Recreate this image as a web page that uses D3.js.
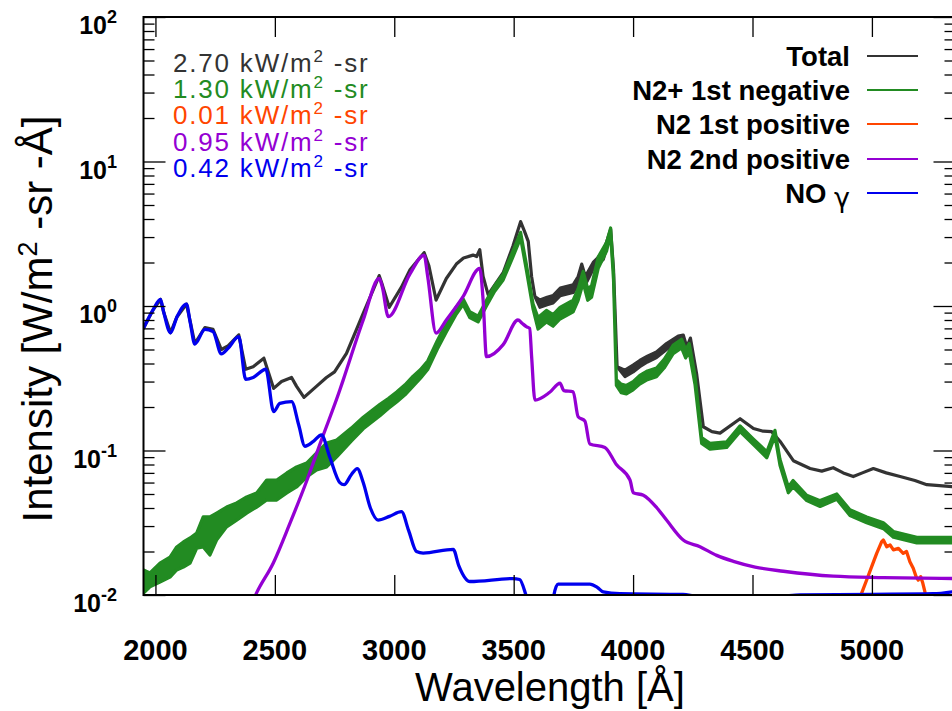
<!DOCTYPE html>
<html>
<head>
<meta charset="utf-8">
<script src="https://cdn.jsdelivr.net/npm/d3@7"></script>
<style>
  body { margin: 0; background: #fff; }
  svg { display: block; font-family: "Liberation Sans", Arial, Helvetica, sans-serif; }
</style>
</head>
<body>
<svg id="chart" width="952" height="711"></svg>
<script>
// ---- axis ticks ----
const xTicks = [2000, 2500, 3000, 3500, 4000, 4500, 5000];
const yDecades = [-2, -1, 0, 1, 2];

// ---- series names, colours and integrated intensities ----
const seriesNames = ["Total", "N2+ 1st negative", "N2 1st positive", "N2 2nd positive", "NO γ"];
const seriesColors = ["#333333", "#228b22", "#ff4500", "#9400d3", "#0000ee"];
const integratedPower = ["2.70", "1.30", "0.01", "0.95", "0.42"];

// ---- spectra: [wavelength Å, intensity] or [wavelength Å, low, high] where the trace is a noisy band ----
const total = [
  [1950, 0.70], [1990, 0.94], [2021, 1.11], [2035, 0.90], [2063, 0.653], [2090, 0.84],
  [2130, 1.03], [2145, 0.79], [2165, 0.55], [2207, 0.71], [2241, 0.69], [2276, 0.50],
  [2304, 0.53], [2349, 0.63], [2378, 0.365], [2409, 0.38], [2454, 0.435], [2495, 0.269],
  [2528, 0.30], [2570, 0.32], [2591, 0.278], [2622, 0.233], [2674, 0.278], [2716, 0.32],
  [2750, 0.35], [2800, 0.47], [2870, 0.89], [2937, 1.62], [2950, 1.40], [2979, 0.98],
  [3030, 1.35], [3066, 1.78], [3125, 2.34], [3145, 1.90], [3175, 1.10], [3218, 1.55],
  [3260, 1.95], [3290, 2.15], [3330, 2.25], [3345, 2.20], [3358, 2.45], [3372, 1.60],
  [3393, 1.20], [3456, 1.70], [3497, 2.60], [3529, 3.83], [3545, 3.30], [3561, 2.80],
  [3575, 1.60], [3589, 1.16], [3610, 0.98, 1.10], [3640, 1.02, 1.15], [3665, 1.05, 1.18],
  [3695, 1.18, 1.33], [3749, 1.24, 1.40], [3770, 1.40, 1.60], [3785, 1.70, 1.95],
  [3800, 1.40, 1.60], [3833, 1.80, 2.00], [3875, 2.10, 2.35], [3906, 3.15, 3.40],
  [3918, 1.80], [3933, 0.38], [3966, 0.325, 0.36], [4000, 0.35, 0.39], [4028, 0.38, 0.42],
  [4060, 0.41, 0.45], [4098, 0.44, 0.48], [4140, 0.50, 0.55], [4189, 0.57, 0.62],
  [4210, 0.58, 0.63], [4225, 0.48, 0.52], [4240, 0.55, 0.60], [4266, 0.34], [4294, 0.146],
  [4330, 0.135], [4364, 0.132], [4448, 0.166], [4504, 0.142], [4545, 0.136], [4580, 0.135],
  [4615, 0.116], [4671, 0.085], [4741, 0.075], [4790, 0.072], [4838, 0.076], [4880, 0.070],
  [4922, 0.066], [4960, 0.070], [5006, 0.075], [5060, 0.070], [5118, 0.066], [5180, 0.062],
  [5230, 0.058], [5350, 0.056]
];

const n2PlusFirstNeg = [
  [1950, 0.0103, 0.0149], [1977, 0.0114, 0.0142], [2019, 0.0123, 0.0166], [2061, 0.0133, 0.0183],
  [2089, 0.0149, 0.0215], [2117, 0.0156, 0.0233], [2145, 0.0166, 0.0248], [2173, 0.0211, 0.0269],
  [2200, 0.0215, 0.0347], [2228, 0.0189, 0.0347], [2256, 0.0240, 0.0369], [2298, 0.0296, 0.0406],
  [2340, 0.0330, 0.0434], [2382, 0.0369, 0.0477], [2424, 0.0406, 0.0508], [2466, 0.0454, 0.0625],
  [2508, 0.0454, 0.0625], [2550, 0.0508, 0.0699], [2591, 0.0559, 0.0769], [2633, 0.0655, 0.0819],
  [2675, 0.0733, 0.0961], [2717, 0.0769, 0.1127], [2759, 0.0902, 0.1182], [2820, 0.1161, 0.1429],
  [2870, 0.1413, 0.1698], [2905, 0.1567, 0.1884], [2940, 0.1738, 0.2089], [2975, 0.195, 0.2291],
  [3010, 0.2163, 0.2541], [3045, 0.2427, 0.2851], [3079, 0.2786, 0.3273], [3110, 0.3162, 0.3631],
  [3140, 0.3631, 0.4169], [3180, 0.5012, 0.5754], [3218, 0.6607, 0.7586], [3260, 0.881, 0.9886],
  [3288, 1.023, 1.122], [3316, 0.832, 0.912], [3351, 0.776, 0.851], [3386, 1.0, 1.096],
  [3420, 1.259, 1.380], [3456, 1.514, 1.660], [3497, 2.188, 2.399], [3529, 2.951, 3.236],
  [3553, 1.778, 1.950], [3581, 0.955, 1.035], [3602, 0.692, 0.832], [3637, 0.776, 0.933],
  [3665, 0.724, 0.871], [3694, 0.813, 0.977], [3749, 0.912, 1.096], [3770, 1.096, 1.318],
  [3791, 1.445, 1.738], [3810, 1.096, 1.318], [3826, 1.148, 1.380], [3854, 1.820, 2.188],
  [3889, 2.399, 2.754], [3906, 3.162, 3.467], [3918, 1.514, 1.660], [3930, 0.282, 0.309],
  [3950, 0.251, 0.288], [3972, 0.246, 0.282], [4000, 0.263, 0.300], [4028, 0.288, 0.331],
  [4060, 0.309, 0.355], [4098, 0.324, 0.372], [4130, 0.372, 0.427], [4168, 0.468, 0.537],
  [4203, 0.513, 0.589], [4220, 0.437, 0.501], [4235, 0.479, 0.550], [4259, 0.288, 0.331],
  [4287, 0.112, 0.123], [4322, 0.102, 0.112], [4392, 0.105, 0.115], [4448, 0.135, 0.148],
  [4504, 0.110, 0.120], [4560, 0.089, 0.098], [4594, 0.126, 0.138], [4615, 0.079, 0.087],
  [4650, 0.051, 0.056], [4670, 0.056, 0.062], [4727, 0.045, 0.049], [4783, 0.041, 0.045],
  [4853, 0.046, 0.050], [4908, 0.0355, 0.0389], [4978, 0.0316, 0.0347], [5048, 0.0288, 0.0316],
  [5090, 0.0251, 0.0275], [5188, 0.0229, 0.0251], [5350, 0.0229, 0.0251]
];

const n2FirstPos = [
  [4950, 0.0085], [4957, 0.0103], [4978, 0.0127], [4999, 0.0157], [5020, 0.0194], [5041, 0.0234],
  [5048, 0.0240], [5062, 0.0216], [5076, 0.0222], [5090, 0.0205], [5111, 0.0210], [5131, 0.0194],
  [5145, 0.0200], [5159, 0.0170], [5173, 0.0153], [5185, 0.0134], [5194, 0.0127], [5204, 0.0134],
  [5213, 0.0121], [5222, 0.0105], [5230, 0.0085]
];

const n2SecondPos = [
  [2380, 0.007], [2423, 0.0103], [2493, 0.0166], [2563, 0.0313], [2632, 0.0608], [2695, 0.118],
  [2772, 0.262], [2786, 0.307], [2870, 0.80], [2937, 1.55], [2950, 1.35], [2975, 0.843],
  [3066, 1.67], [3125, 2.25], [3140, 1.60], [3175, 0.65], [3218, 0.80], [3288, 1.16],
  [3358, 1.82], [3372, 1.10], [3386, 0.446], [3456, 0.54], [3518, 0.80], [3535, 0.76],
  [3553, 0.72], [3567, 0.70], [3575, 0.45], [3589, 0.223], [3651, 0.253], [3694, 0.292],
  [3710, 0.26], [3749, 0.255], [3770, 0.171], [3798, 0.16], [3819, 0.111], [3882, 0.105],
  [3930, 0.08], [3987, 0.0625], [4001, 0.051], [4043, 0.049], [4100, 0.040], [4140, 0.033],
  [4210, 0.024], [4280, 0.0216], [4350, 0.0188], [4420, 0.0171], [4511, 0.0156], [4629, 0.0146],
  [4838, 0.0135], [5048, 0.0132], [5350, 0.013]
];

const noGamma = [
  [1950, 0.70], [1990, 0.94], [2021, 1.11], [2035, 0.90], [2063, 0.653], [2090, 0.84],
  [2130, 1.03], [2145, 0.78], [2165, 0.546], [2207, 0.69], [2241, 0.667], [2276, 0.466],
  [2304, 0.51], [2349, 0.613], [2378, 0.311], [2409, 0.32], [2462, 0.365], [2495, 0.186],
  [2521, 0.212], [2570, 0.218], [2600, 0.15], [2626, 0.107], [2660, 0.115], [2695, 0.128],
  [2730, 0.09], [2772, 0.060], [2790, 0.058], [2820, 0.068], [2845, 0.075], [2870, 0.060],
  [2900, 0.040], [2932, 0.033], [2980, 0.035], [3030, 0.0377], [3060, 0.028], [3093, 0.020],
  [3121, 0.0195], [3247, 0.0207], [3270, 0.016], [3317, 0.0124], [3497, 0.013], [3525, 0.0128],
  [3553, 0.0098], [3570, 0.008], [3660, 0.008], [3668, 0.0099], [3686, 0.0119], [3819, 0.0119],
  [3850, 0.0113], [3875, 0.0105], [3945, 0.0102], [4209, 0.0101], [4272, 0.0098], [4600, 0.0098],
  [4700, 0.0100], [5000, 0.0101], [5255, 0.0102], [5350, 0.0106]
];

const seriesData = [total, n2PlusFirstNeg, n2FirstPos, n2SecondPos, noGamma];
// smooth band-head profiles use monotone curves; noisy traces stay piecewise linear
const smoothSeries = [false, false, false, true, true];

// ---- layout ----
const svg = d3.select("#chart");
const plot = { left: 143.5, right: 955.5, top: 17, bottom: 595 };

const x = d3.scaleLinear().domain([1950, 5350]).range([plot.left, plot.right]);
const y = d3.scaleLog().domain([0.01, 100]).range([plot.bottom, plot.top]);

svg.append("clipPath").attr("id", "plot-clip")
  .append("rect")
  .attr("x", plot.left).attr("y", plot.top)
  .attr("width", plot.right - plot.left).attr("height", plot.bottom - plot.top);

const traces = svg.append("g").attr("clip-path", "url(#plot-clip)");

const band = d3.area()
  .x(d => x(d[0]))
  .y0(d => y(d[1]))
  .y1(d => y(d.length > 2 ? d[2] : d[1]));

seriesData.forEach((data, i) => {
  const noisy = data.some(d => d.length > 2);
  if (noisy) {
    traces.append("path")
      .datum(data)
      .attr("d", band)
      .attr("fill", seriesColors[i])
      .attr("stroke", seriesColors[i])
      .attr("stroke-width", 3.2)
      .attr("stroke-linejoin", "round");
  } else {
    const line = d3.line()
      .x(d => x(d[0]))
      .y(d => y(d[1]))
      .curve(smoothSeries[i] ? d3.curveMonotoneX : d3.curveLinear);
    traces.append("path")
      .datum(data)
      .attr("d", line)
      .attr("fill", "none")
      .attr("stroke", seriesColors[i])
      .attr("stroke-width", 3.3)
      .attr("stroke-linejoin", "round");
  }
});

// ---- frame and ticks (ticks point inward on all four sides) ----
const majorY = yDecades.map(p => Math.pow(10, p));
const minorY = [];
yDecades.slice(0, -1).forEach(p => { for (let m = 2; m <= 9; m++) minorY.push(m * Math.pow(10, p)); });

function styleAxis(g) {
  g.select(".domain").remove();
  g.selectAll(".tick line").attr("stroke", "#000").attr("stroke-width", 1.3);
  g.selectAll(".tick text").remove();
}

svg.append("g").attr("transform", `translate(${plot.left},0)`)
  .call(d3.axisLeft(y).tickValues(majorY).tickSize(-22).tickFormat(""))
  .call(styleAxis);
svg.append("g").attr("transform", `translate(${plot.left},0)`)
  .call(d3.axisLeft(y).tickValues(minorY).tickSize(-11).tickFormat(""))
  .call(styleAxis);
svg.append("g").attr("transform", `translate(${plot.right},0)`)
  .call(d3.axisRight(y).tickValues(majorY).tickSize(-22).tickFormat(""))
  .call(styleAxis);
svg.append("g").attr("transform", `translate(${plot.right},0)`)
  .call(d3.axisRight(y).tickValues(minorY).tickSize(-11).tickFormat(""))
  .call(styleAxis);
svg.append("g").attr("transform", `translate(0,${plot.bottom})`)
  .call(d3.axisBottom(x).tickValues(xTicks).tickSize(-20).tickFormat(""))
  .call(styleAxis);
svg.append("g").attr("transform", `translate(0,${plot.top})`)
  .call(d3.axisTop(x).tickValues(xTicks).tickSize(-20).tickFormat(""))
  .call(styleAxis);

svg.append("rect")
  .attr("x", plot.left).attr("y", plot.top)
  .attr("width", plot.right - plot.left).attr("height", plot.bottom - plot.top)
  .attr("fill", "none").attr("stroke", "#000").attr("stroke-width", 2);

// ---- tick labels ----
svg.append("g").selectAll("text")
  .data(xTicks)
  .join("text")
  .attr("x", d => x(d))
  .attr("y", 660)
  .attr("text-anchor", "middle")
  .attr("font-size", 29)
  .attr("font-weight", "bold")
  .attr("fill", "#000")
  .text(d => d);

const yLab = svg.append("g").selectAll("text")
  .data(yDecades)
  .join("text")
  .attr("x", 117)
  .attr("y", d => y(Math.pow(10, d)) + 17)
  .attr("text-anchor", "end")
  .attr("font-weight", "bold")
  .attr("fill", "#000");
yLab.append("tspan").attr("font-size", 25).text("10");
yLab.append("tspan").attr("font-size", 18).attr("dy", -11).text(d => d);

// ---- axis titles ----
svg.append("text")
  .attr("x", 550).attr("y", 701)
  .attr("text-anchor", "middle")
  .attr("font-size", 40)
  .attr("fill", "#000")
  .text("Wavelength [Å]");

const yTitle = svg.append("text")
  .attr("transform", "translate(52,319) rotate(-90)")
  .attr("text-anchor", "middle")
  .attr("font-size", 42)
  .attr("fill", "#000");
yTitle.append("tspan").text("Intensity [W/m");
yTitle.append("tspan").attr("font-size", 27).attr("dy", -15).text("2");
yTitle.append("tspan").attr("dy", 15).text(" -sr -Å]");

// ---- integrated intensity annotations ----
const notes = svg.append("g").selectAll("text")
  .data(integratedPower)
  .join("text")
  .attr("x", 173)
  .attr("y", (d, i) => 72 + i * 26.2)
  .attr("font-size", 26)
  .attr("letter-spacing", 1.8)
  .attr("fill", (d, i) => seriesColors[i]);
notes.append("tspan").text(d => d + " kW/m");
notes.append("tspan").attr("font-size", 17).attr("dy", -10).text("2");
notes.append("tspan").attr("dy", 10).text(" -sr");

// ---- legend ----
const legendY = [56, 90, 124, 159, 193];
const legend = svg.append("g").selectAll("g")
  .data(seriesNames)
  .join("g");
const legendText = legend.append("text")
  .attr("x", 850)
  .attr("y", (d, i) => legendY[i] + 10)
  .attr("text-anchor", "end")
  .attr("font-size", 27.5)
  .attr("font-weight", "bold")
  .attr("fill", "#000");
// the Greek letter is set in a lighter upright face, as in the band-system name
legendText.each(function (d) {
  const t = d3.select(this);
  const m = d.match(/^(.*?)(γ)$/);
  if (m) {
    t.append("tspan").text(m[1]);
    t.append("tspan").attr("font-weight", "normal").attr("font-family", "'DejaVu Sans', sans-serif")
      .attr("font-size", 27).attr("dy", 4).text(m[2]);
  } else {
    t.text(d);
  }
});
legend.append("line")
  .attr("x1", 867).attr("x2", 918)
  .attr("y1", (d, i) => legendY[i]).attr("y2", (d, i) => legendY[i])
  .attr("stroke", (d, i) => seriesColors[i])
  .attr("stroke-width", 2.2);
</script>
</body>
</html>
